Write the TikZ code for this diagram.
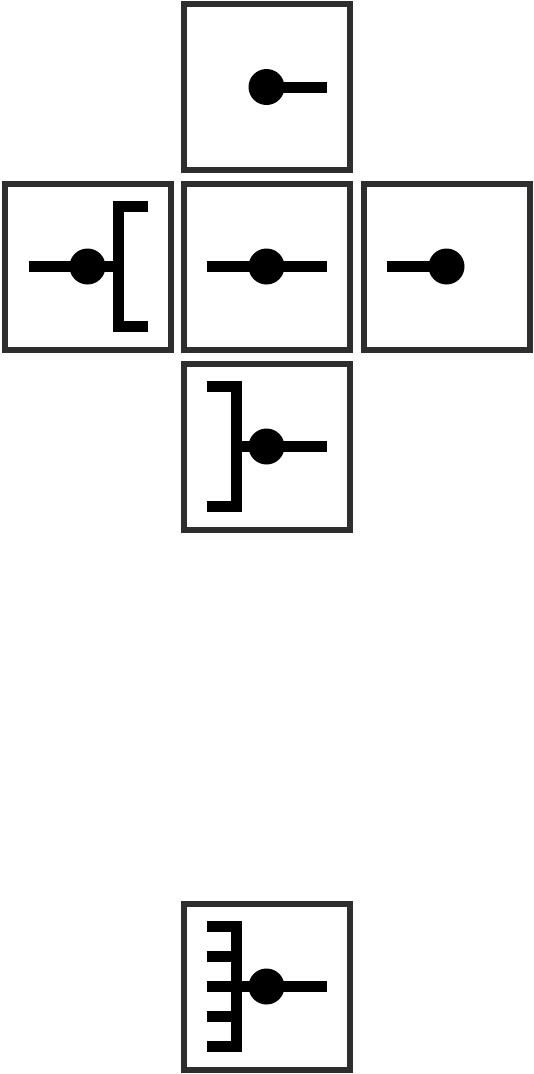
\documentclass[tikz,border=0pt]{standalone}
\usetikzlibrary{calc}
\definecolor{boxgray}{HTML}{2E2E2E}
\begin{document}
\begin{tikzpicture}[x=1pt,y=-1pt,
  box/.style={draw=boxgray,line width=6pt,minimum size=166pt,inner sep=0pt,fill=white},
  sym/.style={line width=11pt,line cap=butt,line join=miter,black},
  dot/.style={fill=black}]
\useasboundingbox (0,0) rectangle (534,1074);
\node[box] (top) at (266.5,87) {};
\node[box] (left) at (87.5,266.5) {};
\node[box] (mid) at (266.5,266.5) {};
\node[box] (right) at (446.5,266.5) {};
\node[box] (below) at (266.5,446.5) {};
\node[box] (bottom) at (266.5,986.5) {};
% top: dot with stem right
\begin{scope}[shift={(top.center)}]
  \draw[sym] (0,0) -- (60,0);
  \fill[dot] (0,0) circle (18);
\end{scope}
% left: stem, dot, bracket opening right
\begin{scope}[shift={(left.center)}]
  \draw[sym] (-59,0) -- (31,0);
  \draw[sym] (60,-60) -- (31,-60) -- (31,60) -- (60,60);
  \fill[dot] (0,0) circle (18);
\end{scope}
% middle: stem through dot
\begin{scope}[shift={(mid.center)}]
  \draw[sym] (-60,0) -- (60,0);
  \fill[dot] (0,0) circle (18);
\end{scope}
% right: stem left, dot
\begin{scope}[shift={(right.center)}]
  \draw[sym] (-60,0) -- (0,0);
  \fill[dot] (0,0) circle (18);
\end{scope}
% below: bracket opening left, dot, stem right
\begin{scope}[shift={(below.center)}]
  \draw[sym] (-30,0) -- (60,0);
  \draw[sym] (-60,-60) -- (-30,-60) -- (-30,60) -- (-60,60);
  \fill[dot] (0,0) circle (18);
\end{scope}
% bottom: comb, dot, stem right
\begin{scope}[shift={(bottom.center)}]
  \draw[sym] (-30,0) -- (60,0);
  \draw[sym] (-60,-60) -- (-30,-60) -- (-30,60) -- (-60,60);
  \draw[sym] (-60,-30) -- (-30,-30);
  \draw[sym] (-60,0) -- (-30,0);
  \draw[sym] (-60,30) -- (-30,30);
  \fill[dot] (0,0) circle (18);
\end{scope}
\end{tikzpicture}
\end{document}
